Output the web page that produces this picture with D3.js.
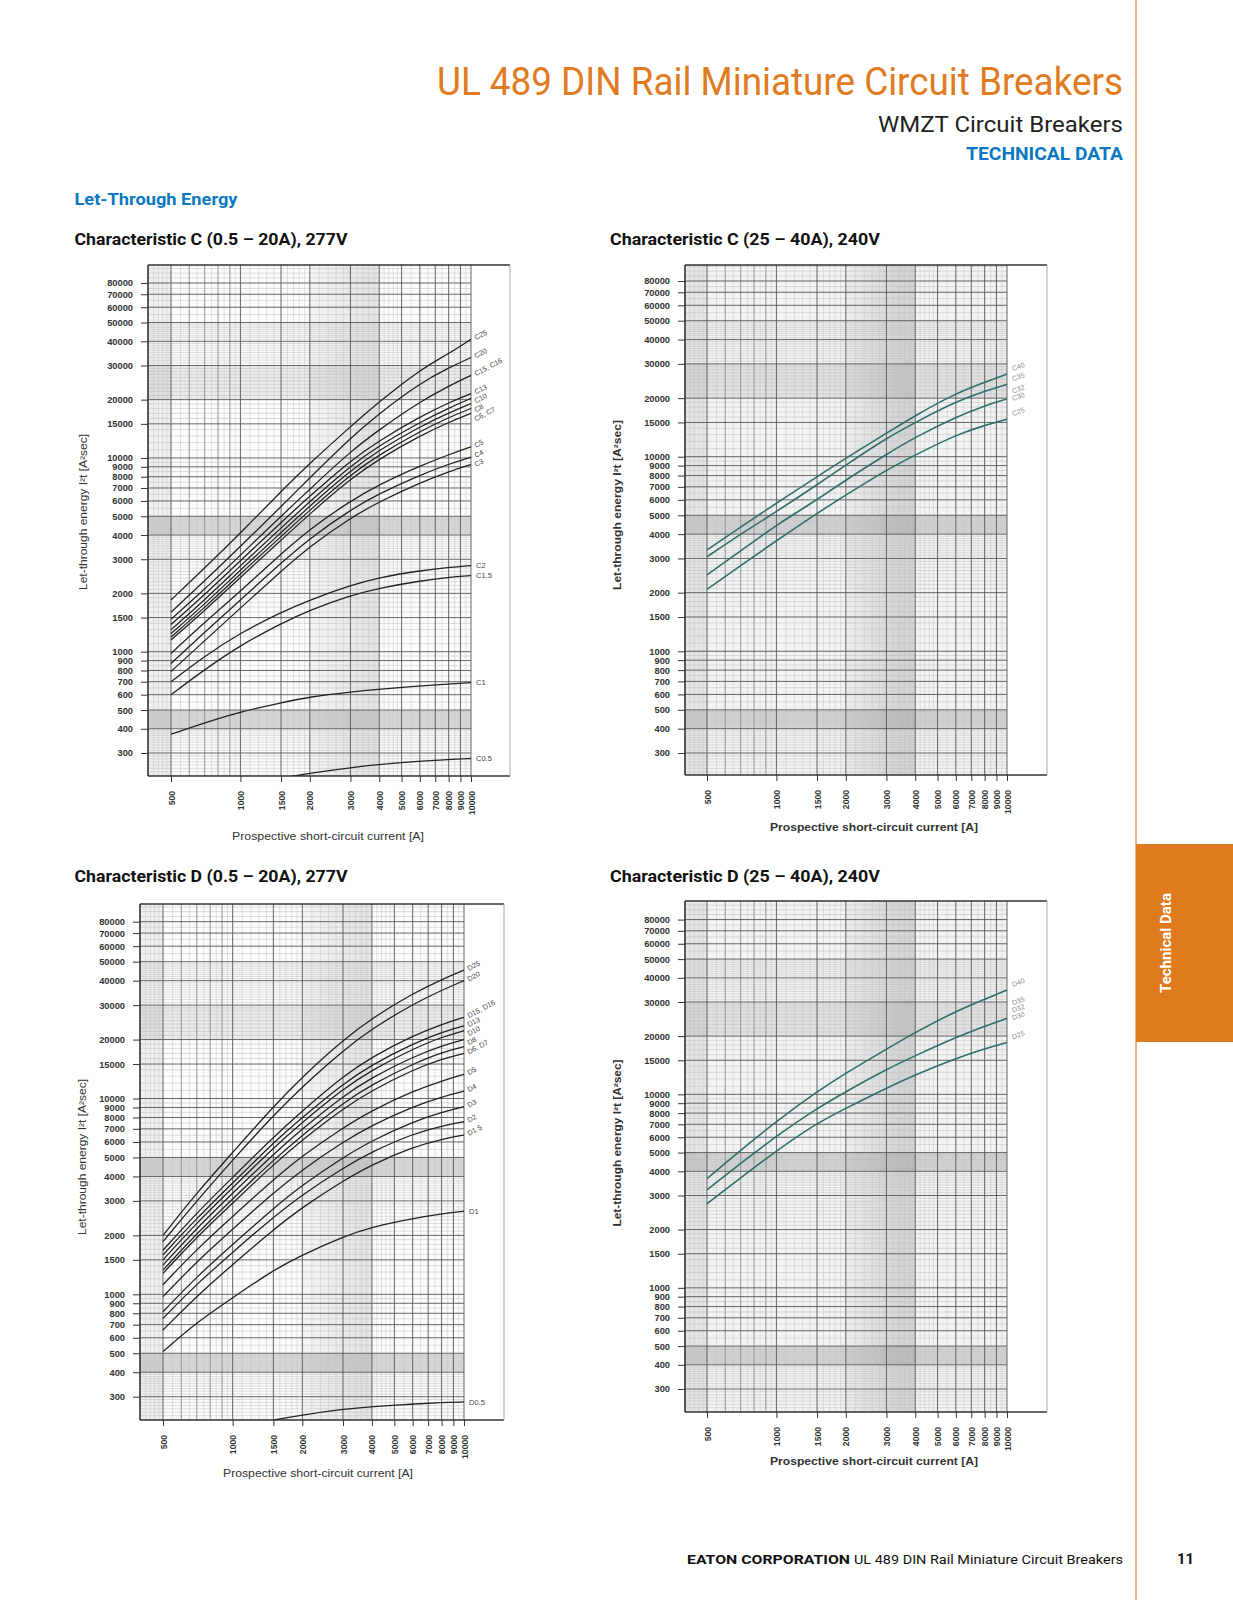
<!DOCTYPE html>
<html><head><meta charset="utf-8">
<script src="https://cdn.jsdelivr.net/npm/d3@7"></script>
<style>body{margin:0;background:#fff}svg{display:block}</style>
</head><body>
<svg id="page" width="1233" height="1600"></svg>
<script>
// ---------------- DATA ----------------
const currents = [500, 700, 1000, 1500, 2000, 3000, 4000, 6000, 8000, 10000];
const xTickValues = [500,1000,1500,2000,3000,4000,5000,6000,7000,8000,9000,10000];
const yTickValues = [300,400,500,600,700,800,900,1000,1500,2000,3000,4000,5000,6000,7000,8000,9000,10000,15000,20000,30000,40000,50000,60000,70000,80000];

const cLowLabels = ["C25","C20","C15, C16","C13","C10","C8","","C6, C7","C5","C4","C3","C2","C1.5","C1","C0.5"];
const cLowValues = [
  [1850,2700,4100,6700,9400,14500,19500,28500,34500,41000],
  [1600,2320,3500,5600,7900,12700,17000,24300,29200,33000],
  [1470,2100,3150,5000,6900,10800,14000,19500,23500,26700],
  [1380,1970,2950,4650,6350,9700,12300,16300,19300,21500],
  [1300,1850,2780,4350,5950,9100,11600,15300,18100,20300],
  [1240,1760,2640,4120,5650,8600,11000,14500,17100,19100],
  [1190,1690,2520,3930,5380,8200,10400,13700,16200,18000],
  [1150,1630,2420,3760,5150,7800,9900,13000,15300,17000],
  [980,1420,2050,3200,4300,6000,7300,9100,10400,11400],
  [870,1260,1850,2870,3850,5400,6550,8150,9300,10100],
  [790,1140,1680,2600,3500,4900,5950,7450,8500,9250],
  [700,950,1250,1600,1850,2200,2420,2620,2720,2780],
  [600,810,1080,1400,1640,1950,2130,2320,2420,2470],
  [375,430,490,545,585,620,640,665,682,692],
  [null,null,null,222,236,252,262,272,278,281]
];

const cHighLabels = [["C40"],["C35"],["C32","C30"],["C25"]];
const cHighValues = [
  [3320,4350,5770,7890,9820,13200,16300,21200,24100,26600],
  [3060,4000,5220,7170,9060,12450,15000,19200,21700,23550],
  [2470,3280,4460,6000,7600,10290,12600,16000,18300,19800],
  [2080,2760,3700,5120,6350,8550,10200,12950,14500,15600]
];

const dLowLabels = ["D25","D20","D15, D16","D13","D10","D8","","D6, D7","D5","D4","D3","D2","D1.5","D1","D0.5"];
const dLowValues = [
  [2000,3300,5300,9100,12900,19900,25700,34400,40500,45300],
  [1860,3000,4850,8200,11500,17600,22700,30300,35700,40000],
  [1680,2610,3950,6350,8630,13000,16300,20900,23900,26000],
  [1590,2450,3700,5950,8000,11900,14900,19000,21800,23500],
  [1500,2320,3500,5600,7550,11200,14000,17900,20600,22200],
  [1410,2180,3280,5200,7000,10300,12800,16300,18600,20000],
  [1330,2050,3070,4850,6500,9500,11800,15000,17200,18400],
  [1280,1960,2920,4600,6150,8900,11000,14000,15900,17000],
  [1120,1700,2500,3850,5100,7100,8700,10900,12300,13300],
  [973,1470,2150,3300,4330,6000,7300,9100,10200,10900],
  [815,1230,1800,2750,3620,5000,6100,7600,8500,9080],
  [754,1130,1640,2480,3230,4420,5350,6600,7250,7610],
  [657,980,1420,2140,2780,3800,4600,5650,6200,6510],
  [510,720,960,1330,1590,1970,2210,2440,2580,2660],
  [null,null,null,228,242,259,267,275,280,282]
];

const dHighLabels = [["D40"],["D35","D32","D30"],["D25"]];
const dHighValues = [
  [3670,5150,7260,10330,12880,17130,20900,26900,31000,34650],
  [3210,4400,6090,8470,10330,13460,15850,19700,22500,24700],
  [2720,3700,5110,7110,8470,10790,12600,15350,17200,18550]
];

const chartTitles = ["Characteristic C (0.5 – 20A), 277V","Characteristic C (25 – 40A), 240V",
                     "Characteristic D (0.5 – 20A), 277V","Characteristic D (25 – 40A), 240V"];
const yAxisTitle = "Let-through energy I²t [A²sec]";
const xAxisTitle = "Prospective short-circuit current [A]";

// ---------------- PAGE ----------------
const page = d3.select("#page");
const defs = page.append("defs");
const ORANGE = "#E07B22", BLUE = "#0A78C2";

function text(x, y, s, o) {
  const t = page.append("text").attr("x", x).attr("y", y).text(s)
    .attr("font-family", o.family || "Roboto, 'Liberation Sans', sans-serif")
    .attr("font-size", o.size).attr("font-weight", o.weight || 400)
    .attr("fill", o.fill || "#231f20");
  if (o.width) t.attr("textLength", o.width).attr("lengthAdjust", "spacingAndGlyphs");
  if (o.anchor) t.attr("text-anchor", o.anchor);
  if (o.transform) t.attr("transform", o.transform);
  return t;
}

// header
text(437, 95, "UL 489 DIN Rail Miniature Circuit Breakers", {size: 38, fill: ORANGE, width: 686});
text(878, 132, "WMZT Circuit Breakers", {size: 22, fill: "#231f20", width: 245});
text(966, 160, "TECHNICAL DATA", {size: 17.5, weight: 700, fill: BLUE, width: 157});
text(74.5, 205, "Let-Through Energy", {size: 16, weight: 700, fill: BLUE, width: 163});
text(74.5, 245, chartTitles[0], {size: 16, weight: 700, fill: "#111", width: 273});
text(610, 245, chartTitles[1], {size: 16, weight: 700, fill: "#111", width: 270});
text(74.5, 882, chartTitles[2], {size: 16, weight: 700, fill: "#111", width: 273});
text(610, 882, chartTitles[3], {size: 16, weight: 700, fill: "#111", width: 270});

// right rule and tab
page.append("line").attr("x1", 1136).attr("x2", 1136).attr("y1", 0).attr("y2", 1600)
  .attr("stroke", "#E38A3C").attr("stroke-width", 1.3);
page.append("rect").attr("x", 1136).attr("y", 844).attr("width", 97).attr("height", 198).attr("fill", "#DF7A1E");
text(0, 0, "Technical Data", {size: 15, weight: 700, fill: "#fff", width: 100, anchor: "middle",
  transform: "translate(1171,943) rotate(-90)"});

// footer
text(687, 1564, "EATON CORPORATION", {size: 13, weight: 700, fill: "#111", width: 163});
text(854, 1564, "UL 489 DIN Rail Miniature Circuit Breakers", {size: 13, fill: "#111", width: 269});
text(1177, 1564, "11", {size: 14, weight: 700, fill: "#111", width: 17});

// ---------------- CHARTS ----------------
function minorY(lo, hi) {
  const out = [];
  [100, 1000, 10000].forEach(dec => {
    for (let k = 10; k < 100; k += 1) {
      const m = k / 10;
      if (m >= 5 && (k % 5) !== 0) continue;
      const v = Math.round(m * dec);
      if (v > lo && v < hi && !yTickValues.includes(v)) out.push(v);
    }
  });
  return out;
}
function minorX(lo) {
  const out = [];
  const seg = [[400,500,20],[500,1000,50],[1000,2000,100],[2000,5000,200],[5000,10000,500]];
  seg.forEach(([a,b,s]) => { for (let v = a + s; v < b; v += s) if (v > lo && !xTickValues.includes(v)) out.push(v); });
  return out;
}

function drawChart(id, L, labels, values, opt) {
  const g = page.append("g");
  const x = d3.scaleLog().domain([500, 10000]).range([L.x500, L.x10k]);
  const y = d3.scaleLog().domain([300, 80000]).range([L.y300, L.y80k]);
  const xMin = x.invert(L.left), yMin = y.invert(L.bottom), yMax = y.invert(L.top);
  const W = L.x10k - L.left, H = L.bottom - L.top;

  g.append("rect").attr("x", L.left).attr("y", L.top).attr("width", W).attr("height", H).attr("fill", opt.bg);
  // shaded bands of the graph paper
  [[20000, 30000, 0.07], [4000, 5000, 0.12], [400, 500, 0.12]].forEach(([a, b, o]) =>
    g.append("rect").attr("x", L.left).attr("width", W).attr("y", y(b)).attr("height", y(a) - y(b))
      .attr("fill", "#000").attr("opacity", o));
  const grad = defs.append("linearGradient").attr("id", "band" + id).attr("x1", 0).attr("x2", 1).attr("y1", 0).attr("y2", 0);
  grad.append("stop").attr("offset", 0).attr("stop-color", "#000").attr("stop-opacity", 0.03);
  grad.append("stop").attr("offset", 0.8).attr("stop-color", "#000").attr("stop-opacity", opt.bandMax);
  grad.append("stop").attr("offset", 1).attr("stop-color", "#000").attr("stop-opacity", opt.bandMax);
  g.append("rect").attr("x", x(2000)).attr("width", x(4000) - x(2000)).attr("y", L.top).attr("height", H)
    .attr("fill", `url(#band${id})`);
  g.append("rect").attr("x", L.left).attr("width", x(500) - L.left).attr("y", L.top).attr("height", H)
    .attr("fill", "#000").attr("opacity", 0.05);

  // minor grid
  g.append("g").selectAll("line").data(minorY(yMin, yMax)).join("line")
    .attr("x1", L.left).attr("x2", L.x10k).attr("y1", d => y(d)).attr("y2", d => y(d))
    .attr("stroke", "#bdbdbd").attr("stroke-width", 0.5);
  g.append("g").selectAll("line").data(minorX(xMin)).join("line")
    .attr("y1", L.top).attr("y2", L.bottom).attr("x1", d => x(d)).attr("x2", d => x(d))
    .attr("stroke", "#c4c4c4").attr("stroke-width", 0.5);
  g.append("g").selectAll("line").data([600, 700, 800, 900]).join("line")
    .attr("y1", L.top).attr("y2", L.bottom).attr("x1", d => x(d)).attr("x2", d => x(d))
    .attr("stroke", "#8a8a8a").attr("stroke-width", 0.8);
  // major grid
  g.append("g").selectAll("line").data(yTickValues).join("line")
    .attr("x1", L.left).attr("x2", L.x10k).attr("y1", d => y(d)).attr("y2", d => y(d))
    .attr("stroke", "#555").attr("stroke-width", 0.9);
  g.append("g").selectAll("line").data(xTickValues).join("line")
    .attr("y1", L.top).attr("y2", L.bottom).attr("x1", d => x(d)).attr("x2", d => x(d))
    .attr("stroke", "#555").attr("stroke-width", 0.9);

  // axes
  const font = "'Liberation Sans', Arial, sans-serif";
  const ya = g.append("g").attr("transform", `translate(${L.left},0)`)
    .call(d3.axisLeft(y).tickValues(yTickValues).tickFormat(d => String(d)).tickSize(7).tickPadding(8));
  ya.select(".domain").remove();
  ya.selectAll("line").attr("stroke", "#333");
  ya.selectAll("text").attr("font-family", font).attr("font-size", 9.3).attr("font-weight", 700).attr("fill", "#333");
  const xa = g.append("g").attr("transform", `translate(0,${L.bottom})`)
    .call(d3.axisBottom(x).tickValues(xTickValues).tickFormat(d => String(d)).tickSize(6));
  xa.select(".domain").remove();
  xa.selectAll("line").attr("stroke", "#333");
  xa.selectAll("text").attr("transform", "rotate(-90)").attr("x", -15).attr("y", 0).attr("dy", "0.35em")
    .attr("text-anchor", "end").attr("font-family", font).attr("font-size", 8.6).attr("font-weight", 700).attr("fill", "#333");

  // frame
  g.append("line").attr("x1", L.left).attr("x2", L.right).attr("y1", L.top).attr("y2", L.top).attr("stroke", "#333").attr("stroke-width", 1.6);
  g.append("line").attr("x1", L.left).attr("x2", L.right).attr("y1", L.bottom).attr("y2", L.bottom).attr("stroke", "#333").attr("stroke-width", 1.6);
  g.append("line").attr("x1", L.left).attr("x2", L.left).attr("y1", L.top).attr("y2", L.bottom).attr("stroke", "#333").attr("stroke-width", 1.6);
  g.append("line").attr("x1", L.right).attr("x2", L.right).attr("y1", L.top).attr("y2", L.bottom).attr("stroke", "#aaa").attr("stroke-width", 1);

  // curves
  defs.append("clipPath").attr("id", "clip" + id).append("rect")
    .attr("x", L.left).attr("y", L.top).attr("width", W + 1).attr("height", H);
  const line = d3.line().defined(d => d.v != null).x(d => x(d.a)).y(d => y(d.v)).curve(d3.curveBasis);
  g.append("g").attr("clip-path", `url(#clip${id})`).selectAll("path").data(values).join("path")
    .attr("d", vals => line(vals.map((v, i) => ({a: currents[i], v}))))
    .attr("fill", "none").attr("stroke", opt.color).attr("stroke-width", opt.lw);

  // curve labels
  let prevY = -1e9;
  values.forEach((vals, i) => {
    const last = vals[vals.length - 1];
    const ly = y(last), lx = L.x10k + 5;
    const lab = labels[i];
    if (Array.isArray(lab)) {
      const n = lab.length;
      lab.forEach((s, k) => {
        const yy = n === 1 ? ly - 3 : ly + 2 - (n - 1 - k) * 7.5;
        g.append("text").attr("transform", `translate(${lx + 1},${yy}) rotate(-20)`).text(s)
          .attr("font-family", font).attr("font-size", 7).attr("fill", "#8c8c8c");
      });
    } else if (lab) {
      if (last > 5000) {
        const yy = Math.max(ly + 1, prevY + 9);
        prevY = yy;
        g.append("text").attr("transform", `translate(${lx},${yy}) rotate(-28)`).text(lab)
          .attr("font-family", font).attr("font-size", 7.2).attr("fill", "#444");
      } else {
        g.append("text").attr("x", lx).attr("y", ly).attr("dy", "0.35em").text(lab)
          .attr("font-family", font).attr("font-size", 7.5).attr("fill", "#444");
      }
    }
  });

  // axis titles
  g.append("text").attr("transform", `translate(${opt.yTitle[0]},${opt.yTitle[1]}) rotate(-90)`)
    .attr("text-anchor", "middle").attr("dy", "0.35em").text(yAxisTitle)
    .attr("font-family", font).attr("font-size", 10).attr("font-weight", opt.titleWeight).attr("fill", "#333")
    .attr("textLength", opt.yTitle[2]).attr("lengthAdjust", "spacingAndGlyphs");
  g.append("text").attr("x", opt.xTitle[0]).attr("y", opt.xTitle[1]).attr("text-anchor", "middle").text(xAxisTitle)
    .attr("font-family", font).attr("font-size", 11).attr("font-weight", opt.titleWeight).attr("fill", "#333")
    .attr("textLength", opt.xTitle[2]).attr("lengthAdjust", "spacingAndGlyphs");
}

drawChart("TL", {x500:171, x10k:471, y300:753, y80k:283, left:148, right:510, top:265, bottom:776},
  cLowLabels, cLowValues, {bg:"#fcfcfc", color:"#222", lw:1.3, titleWeight:400, bandMax:0.09, yTitle:[83,512,156], xTitle:[328,840,192]});
drawChart("TR", {x500:707, x10k:1007, y300:753, y80k:281, left:685, right:1047, top:265, bottom:775},
  cHighLabels, cHighValues, {bg:"#f3f3f3", color:"#2f6e6c", lw:1.6, titleWeight:700, bandMax:0.13, yTitle:[617,505,170], xTitle:[874,831,208]});
drawChart("BL", {x500:163, x10k:464, y300:1396.7, y80k:921.7, left:140, right:504, top:904, bottom:1420},
  dLowLabels, dLowValues, {bg:"#fcfcfc", color:"#222", lw:1.3, titleWeight:400, bandMax:0.09, yTitle:[82,1157,156], xTitle:[318,1477,190]});
drawChart("BR", {x500:707, x10k:1007, y300:1389, y80k:919.6, left:685, right:1047, top:901, bottom:1412},
  dHighLabels, dHighValues, {bg:"#f3f3f3", color:"#2f6e6c", lw:1.6, titleWeight:700, bandMax:0.13, yTitle:[617,1143,167], xTitle:[874,1465,208]});
</script>
</body></html>
